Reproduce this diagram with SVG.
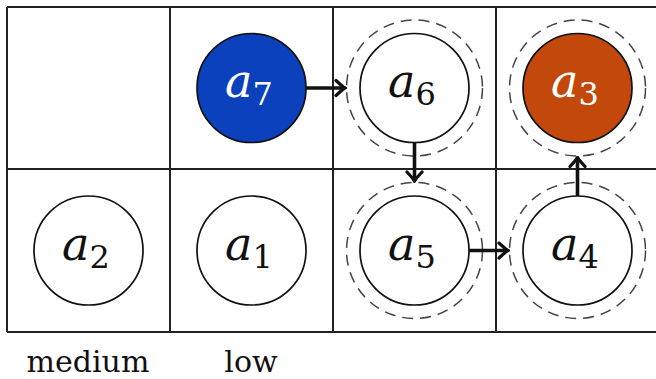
<svg xmlns="http://www.w3.org/2000/svg" width="656" height="379" viewBox="0 0 656 379">
<defs>
<style>
.grid{stroke:#222;stroke-width:2;fill:none}
.node{stroke:#111;stroke-width:1.7;fill:#fff}
.halo{stroke:#444;stroke-width:1.5;fill:none;stroke-dasharray:11 7}
.edge{stroke:#111;stroke-width:3.6;fill:none}
text{font-family:'DejaVu Serif','Liberation Serif',serif}
.lbl{font-size:46px;text-anchor:middle}
.sub{font-size:32px}
.it{font-style:italic}
.cap{font-size:30px;text-anchor:middle;fill:#111}
</style>
<marker id="to" viewBox="-12 -10 14 20" refX="0" refY="0" markerWidth="14" markerHeight="20" markerUnits="userSpaceOnUse" orient="auto">
<path d="M-9,-7.5 Q-2,-1 0,0 Q-2,1 -9,7.5" fill="none" stroke="#111" stroke-width="3.2" stroke-linecap="round"/>
</marker>
</defs>
<rect width="656" height="379" fill="#fff"/>
<g id="grid">
<path class="grid" d="M7,7 H660 M7,169 H660 M7,332 H660 M7,7 V332 M170,7 V332 M333,7 V332 M496,7 V332"/>
</g>
<g id="a7">
<circle cx="251.5" cy="88" r="54.5" fill="#0c41be" stroke="#111" stroke-width="1.7"/>
<text class="lbl" x="249" y="97" fill="#fff"><tspan class="it">a</tspan><tspan class="sub" dy="8">7</tspan></text>
</g>
<g id="a6">
<circle class="halo" cx="414.5" cy="88" r="68"/>
<circle class="node" cx="414.5" cy="88" r="54.5"/>
<text class="lbl" x="412" y="97" fill="#111"><tspan class="it">a</tspan><tspan class="sub" dy="8">6</tspan></text>
</g>
<g id="a3">
<circle class="halo" cx="577.5" cy="88" r="68"/>
<circle cx="577.5" cy="88" r="54.5" fill="#c2490b" stroke="#111" stroke-width="1.7"/>
<text class="lbl" x="575" y="97" fill="#fff"><tspan class="it">a</tspan><tspan class="sub" dy="8">3</tspan></text>
</g>
<g id="a2">
<circle class="node" cx="88.5" cy="250.5" r="54.5"/>
<text class="lbl" x="86" y="259.5" fill="#111"><tspan class="it">a</tspan><tspan class="sub" dy="8">2</tspan></text>
</g>
<g id="a1">
<circle class="node" cx="251.5" cy="250.5" r="54.5"/>
<text class="lbl" x="249" y="259.5" fill="#111"><tspan class="it">a</tspan><tspan class="sub" dy="8">1</tspan></text>
</g>
<g id="a5">
<circle class="halo" cx="414.5" cy="250.5" r="68"/>
<circle class="node" cx="414.5" cy="250.5" r="54.5"/>
<text class="lbl" x="412" y="259.5" fill="#111"><tspan class="it">a</tspan><tspan class="sub" dy="8">5</tspan></text>
</g>
<g id="a4">
<circle class="halo" cx="577.5" cy="250.5" r="68"/>
<circle class="node" cx="577.5" cy="250.5" r="54.5"/>
<text class="lbl" x="575" y="259.5" fill="#111"><tspan class="it">a</tspan><tspan class="sub" dy="8">4</tspan></text>
</g>
<g id="connectors">
<line class="edge" x1="306" y1="88" x2="345" y2="88" marker-end="url(#to)"/>
<line class="edge" x1="414.5" y1="142.5" x2="414.5" y2="181" marker-end="url(#to)"/>
<line class="edge" x1="469" y1="250.5" x2="508" y2="250.5" marker-end="url(#to)"/>
<line class="edge" x1="577.5" y1="196" x2="577.5" y2="157.5" marker-end="url(#to)"/>
</g>
<g id="captions">
<text class="cap" x="88" y="372">medium</text>
<text class="cap" x="251" y="372">low</text>
</g>
</svg>
